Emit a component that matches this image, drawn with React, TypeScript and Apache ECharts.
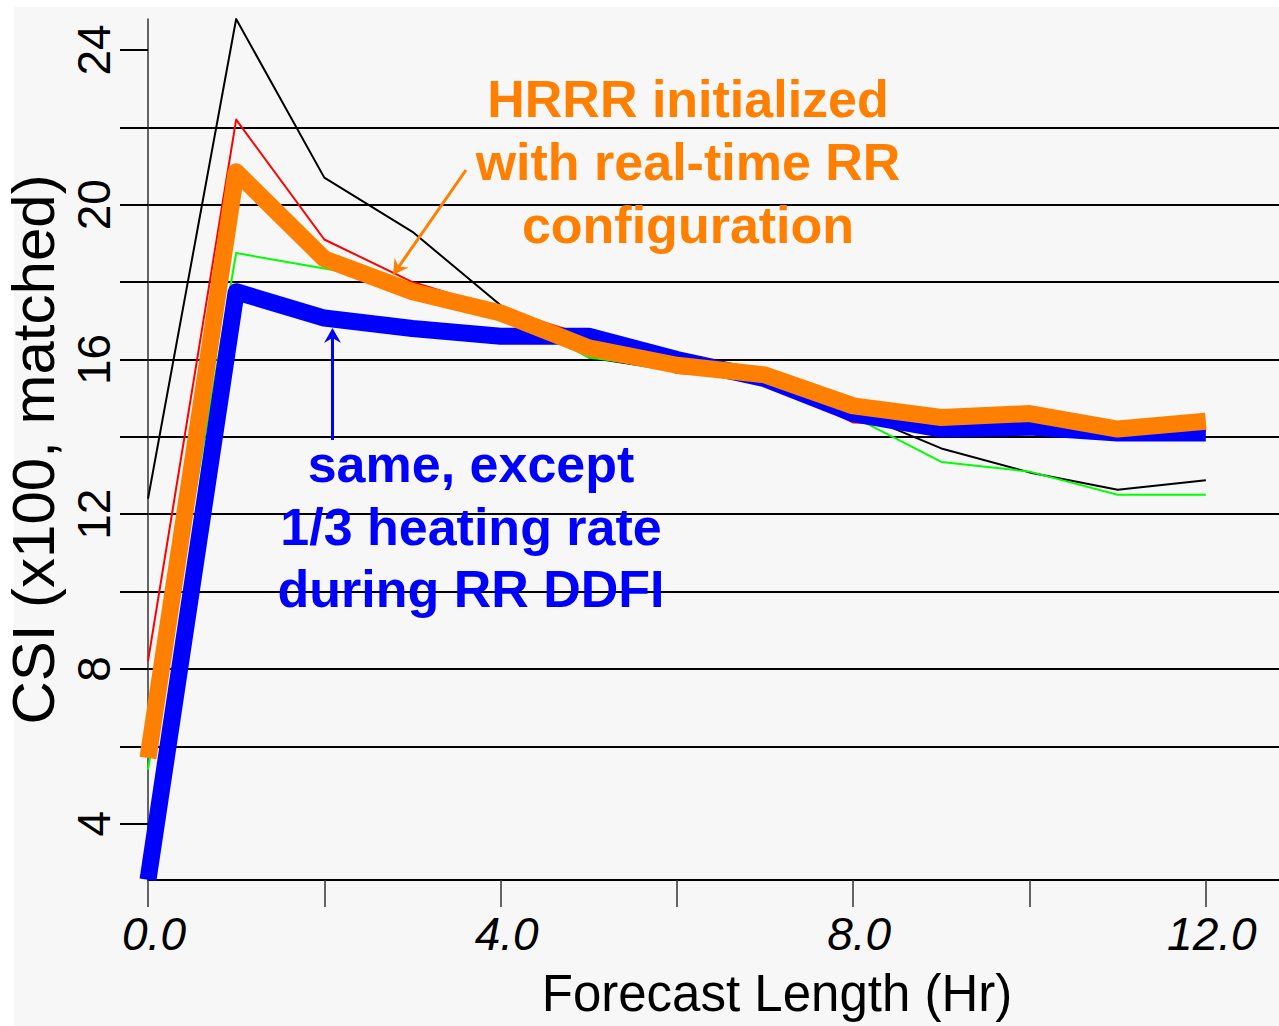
import React, { useEffect, useRef } from "react";
import * as echarts from "echarts";

// Forecast hours
const hours = [0, 1, 2, 3, 4, 5, 6, 7, 8, 9, 10, 11, 12];
// CSI (x100, matched) per experiment
const blackCSI = [12.4, 24.8, 20.7, 19.3, 17.4, 16.05, 15.7, 15.4, 14.65, 13.7, 13.08, 12.63, 12.88];
const redCSI = [8.2, 22.2, 19.1, 18.0, 17.3, 16.6, 15.65, 15.5, 14.37, 14.3, 14.2, 14.05, 14.15];
const greenCSI = [5.4, 18.75, 18.35, 17.95, 17.25, 16.05, 15.75, 15.5, 14.52, 13.35, 13.1, 12.5, 12.5];
const blueCSI = [2.55, 17.75, 17.07, 16.8, 16.6, 16.6, 16.0, 15.5, 14.6, 14.2, 14.25, 14.1, 14.1];
const orangeCSI = [5.7, 20.85, 18.6, 17.75, 17.2, 16.3, 15.85, 15.6, 14.8, 14.5, 14.6, 14.2, 14.4];

// Axis ticks / labels
const xTickValues = [0, 2, 4, 6, 8, 10, 12];
const xLabelValues = [0, 4, 8, 12];
const yTickValues = [4, 6, 8, 10, 12, 14, 16, 18, 20, 22, 24];
const yLabelValues = [4, 8, 12, 16, 20, 24];

const FONT = '"Liberation Sans", Arial, Helvetica, sans-serif';
const ORANGE = "#ff8000";
const BLUE = "#0000ff";

function arrow(x1: number, y1: number, x2: number, y2: number, color: string) {
  const dx = x2 - x1;
  const dy = y2 - y1;
  const L = Math.hypot(dx, dy);
  const ux = dx / L;
  const uy = dy / L;
  const nx = -uy;
  const ny = ux;
  const headLen = 15;
  const half = 8.5;
  const notch = 10;
  const bx = x2 - ux * headLen;
  const by = y2 - uy * headLen;
  return [
    {
      type: "line",
      z: 20,
      shape: { x1, y1, x2: x2 - ux * notch, y2: y2 - uy * notch },
      style: { stroke: color, lineWidth: 3 },
    },
    {
      type: "polygon",
      z: 20,
      shape: {
        points: [
          [x2, y2],
          [bx + nx * half, by + ny * half],
          [x2 - ux * notch, y2 - uy * notch],
          [bx - nx * half, by - ny * half],
        ],
      },
      style: { fill: color },
    },
  ];
}

const pairs = (arr: number[]) => hours.map((h, i) => [h, arr[i]]);

export default function App() {
  const ref = useRef<HTMLDivElement>(null);
  useEffect(() => {
    if (!ref.current) return;
    const chart = echarts.init(ref.current, undefined, { renderer: "svg" });
    const thin = (name: string, data: number[], color: string) => ({
      name,
      type: "line",
      data: pairs(data),
      symbol: "none",
      clip: false,
      z: 2,
      lineStyle: { color, width: 2, cap: "butt", join: "round" },
      itemStyle: { color },
    });
    chart.setOption({
      animation: false,
      backgroundColor: "#ffffff",
      grid: {
        left: 148,
        top: 19,
        right: 0,
        bottom: 146,
        containLabel: false,
        outerBoundsMode: "none",
      },
      xAxis: {
        type: "value",
        min: 0,
        max: 12.83,
        axisLine: { show: true, onZero: false, lineStyle: { color: "#000", width: 2 } },
        axisTick: {
          show: true,
          length: 27,
          customValues: xTickValues,
          lineStyle: { color: "#333", width: 1.5 },
        },
        axisLabel: {
          customValues: xLabelValues,
          formatter: (v: number) => v.toFixed(1),
          fontSize: 46,
          fontStyle: "italic",
          fontFamily: FONT,
          color: "#000",
          margin: 31,
          padding: [0, 0, 0, 12],
        },
        splitLine: { show: false },
      },
      yAxis: {
        type: "value",
        min: 2.544,
        max: 24.8,
        splitNumber: 11,
        name: "CSI (x100, matched)",
        nameLocation: "middle",
        nameGap: 76,
        nameTextStyle: { fontSize: 60, fontFamily: FONT, color: "#000" },
        axisLine: { show: true, onZero: false, lineStyle: { color: "#333", width: 1.5 } },
        axisTick: {
          show: true,
          length: 28,
          customValues: yTickValues,
          lineStyle: { color: "#000", width: 2 },
        },
        axisLabel: {
          customValues: yLabelValues,
          rotate: 90,
          fontSize: 46,
          fontFamily: FONT,
          color: "#000",
          margin: 31,
        },
        splitLine: {
          show: true,
          showMinLine: false,
          showMaxLine: false,
          lineStyle: { color: "#000", width: 2 },
        },
      },
      series: [
        thin("black", blackCSI, "#000000"),
        thin("red", redCSI, "#ff0000"),
        thin("green", greenCSI, "#00ff00"),
        {
          name: "1/3 heating rate",
          type: "line",
          data: pairs(blueCSI),
          symbol: "none",
          clip: false,
          z: 3,
          lineStyle: { color: BLUE, width: 17, cap: "butt", join: "round" },
          itemStyle: { color: BLUE },
        },
        {
          name: "HRRR real-time RR",
          type: "line",
          data: pairs(orangeCSI),
          symbol: "none",
          clip: false,
          z: 4,
          lineStyle: { color: ORANGE, width: 17, cap: "butt", join: "round" },
          itemStyle: { color: ORANGE },
        },
      ],
      graphic: [
        {
          type: "rect",
          z: -100,
          silent: true,
          shape: { x: 14, y: 7, width: 1265, height: 1019 },
          style: { fill: "#f7f7f7" },
        },
        {
          type: "text",
          z: 20,
          x: 777,
          y: 993,
          style: {
            text: "Forecast Length (Hr)",
            fontSize: 51,
            fontFamily: FONT,
            fill: "#000",
            align: "center",
            verticalAlign: "middle",
          },
        },
        {
          type: "text",
          z: 20,
          x: 688,
          y: 161.5,
          style: {
            text: "HRRR initialized\nwith real-time RR\nconfiguration",
            fontSize: 52,
            fontWeight: "bold",
            fontFamily: FONT,
            fill: ORANGE,
            align: "center",
            verticalAlign: "middle",
            lineHeight: 63,
          },
        },
        {
          type: "text",
          z: 20,
          x: 471,
          y: 526.5,
          style: {
            text: "same, except\n1/3 heating rate\nduring RR DDFI",
            fontSize: 52,
            fontWeight: "bold",
            fontFamily: FONT,
            fill: BLUE,
            align: "center",
            verticalAlign: "middle",
            lineHeight: 62.5,
          },
        },
        ...arrow(466, 170, 393, 275, ORANGE),
        ...arrow(332.5, 440, 332.5, 328, BLUE),
      ],
    });
    return () => chart.dispose();
  }, []);
  return (
    <div
      ref={ref}
      style={{ position: "fixed", left: 0, top: 0, width: 1279, height: 1026 }}
    />
  );
}
